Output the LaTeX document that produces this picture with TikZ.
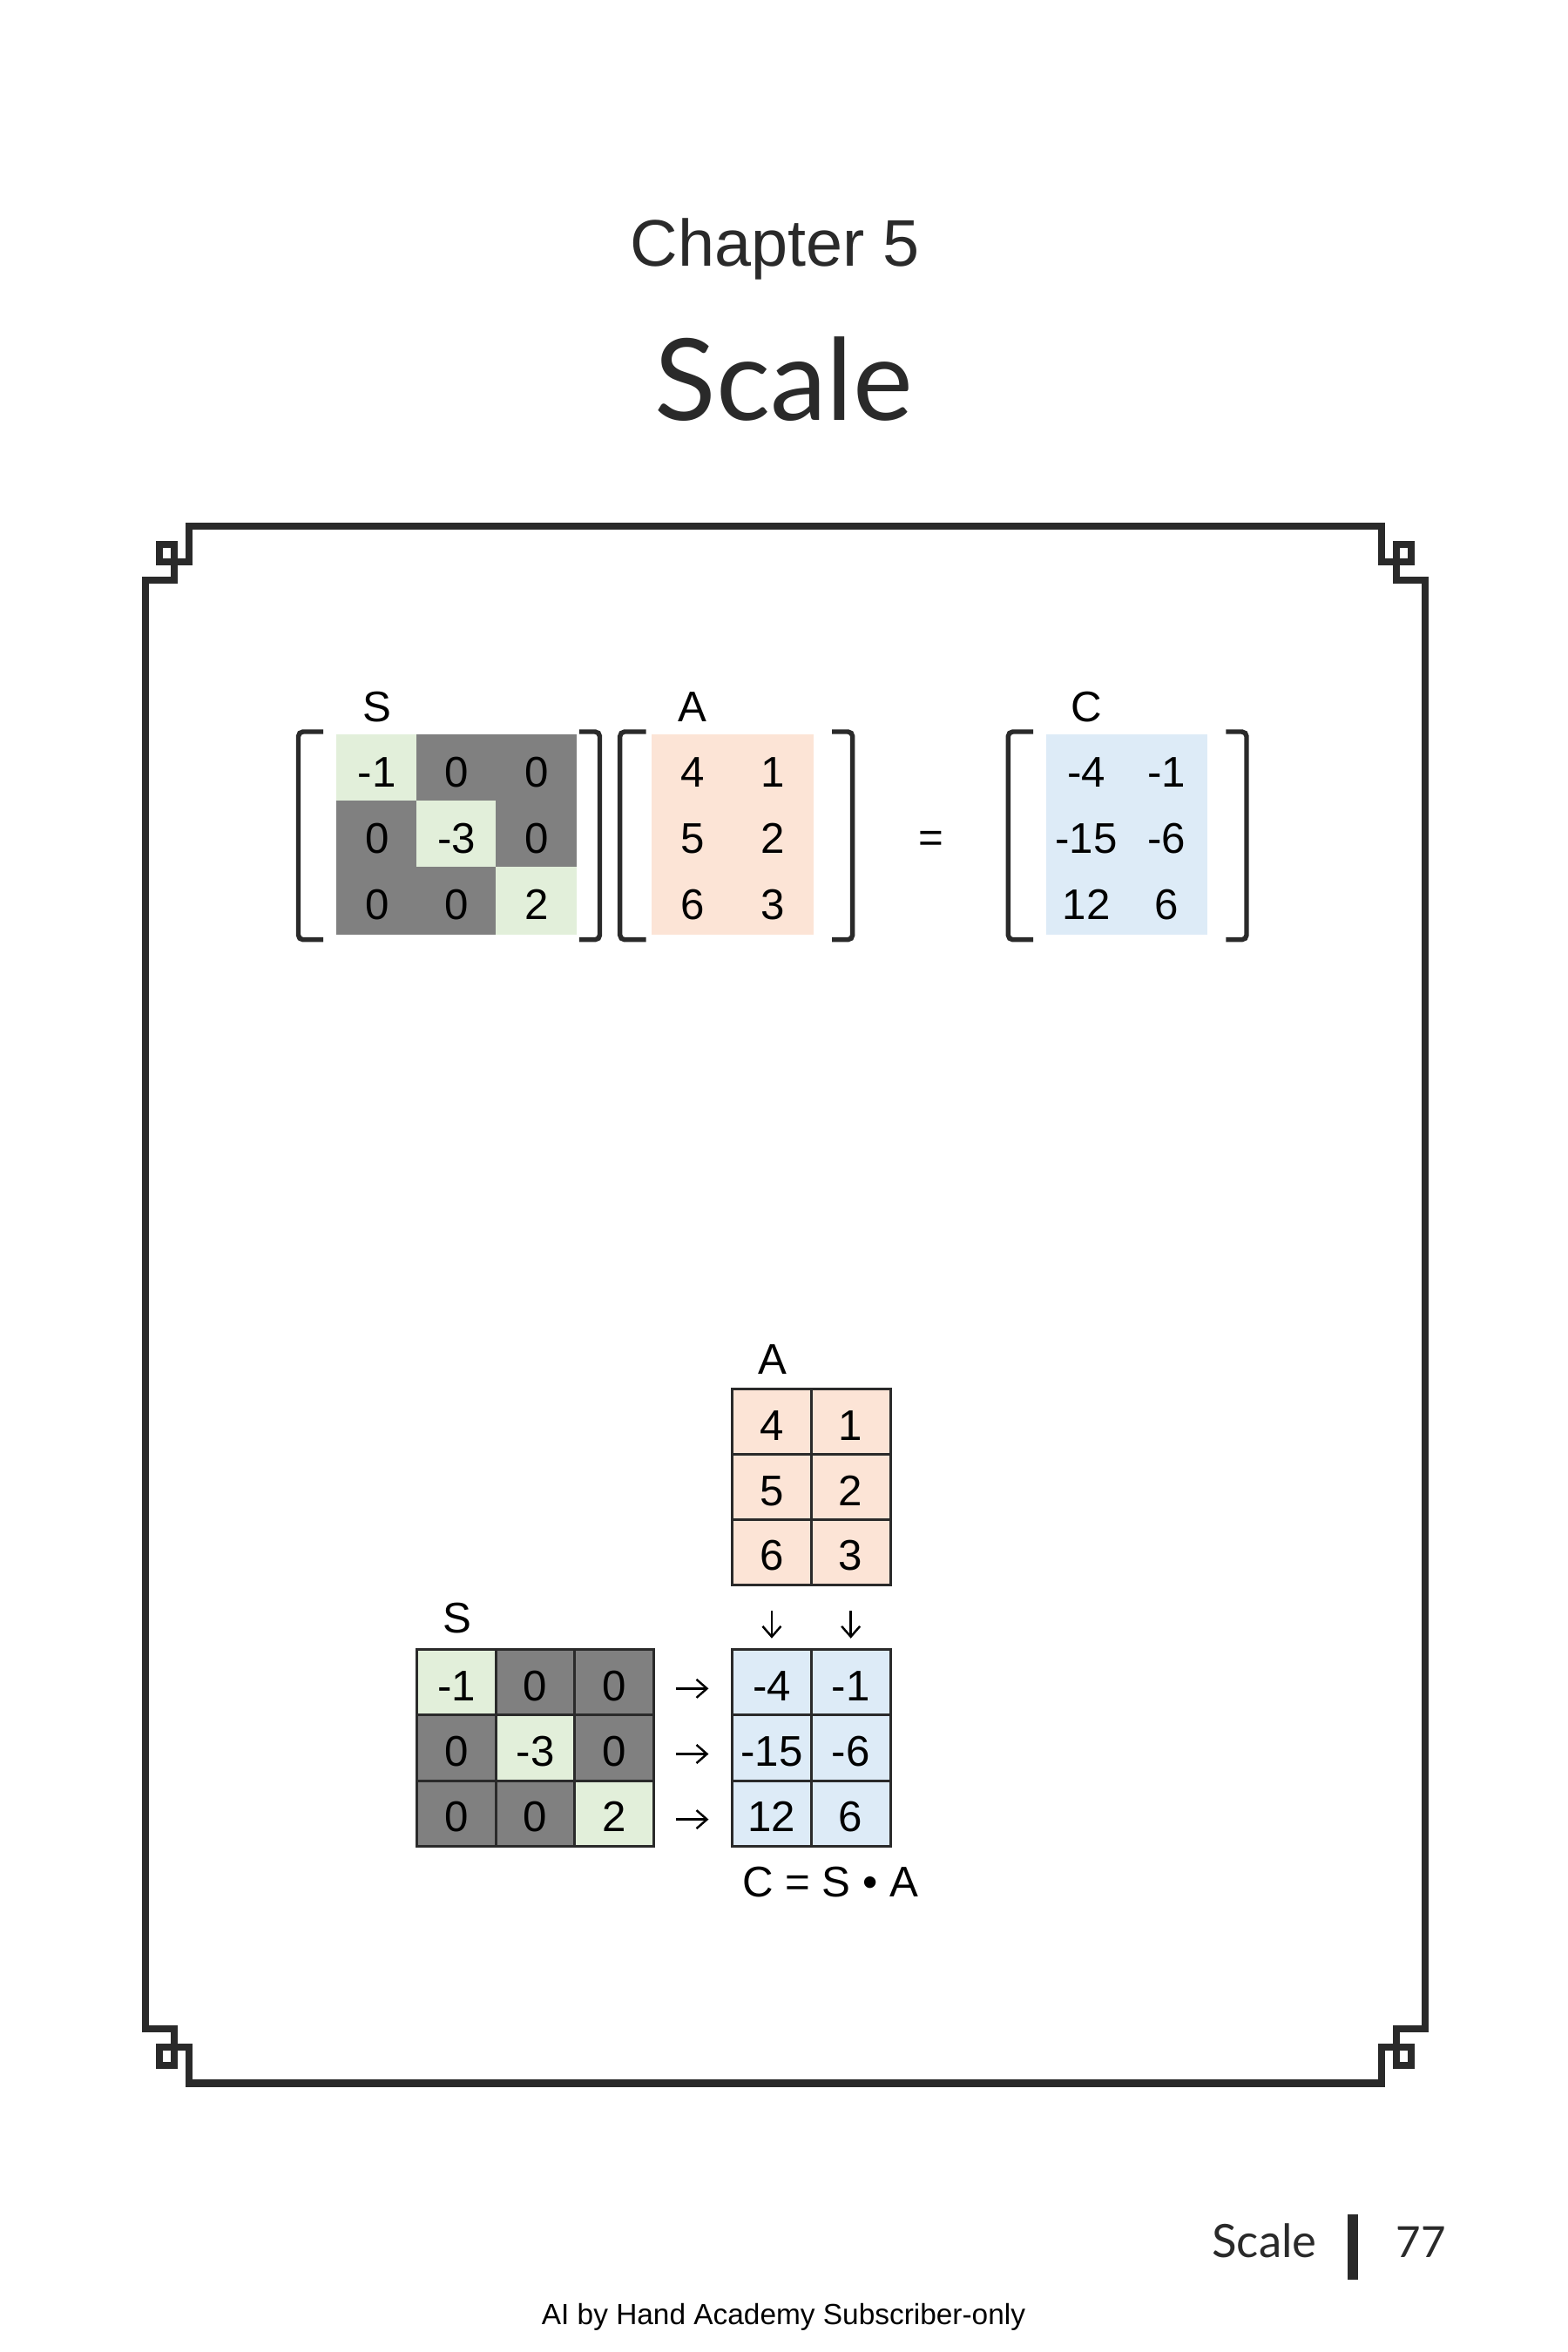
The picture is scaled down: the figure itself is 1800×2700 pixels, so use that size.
\documentclass[tikz,border=0pt]{standalone}
\usepackage{fontspec}
\setmainfont{Liberation Sans}
\newfontfamily\headfont{Lato}
\usetikzlibrary{arrows.meta, positioning}
\definecolor{frameDark}{HTML}{2A2A2A}
\definecolor{offGray}{HTML}{808080}
\definecolor{diagGreen}{HTML}{E2EFDA}
\definecolor{aPeach}{HTML}{FCE4D6}
\definecolor{cBlue}{HTML}{DDEBF7}
\newcommand\numfont{\fontsize{14pt}{16pt}\selectfont}
\tikzset{
  frame/.style={draw=frameDark, line width=2.35pt},
  mcell/.style={rectangle, inner sep=0pt, font=\numfont, text=black, line width=0.3pt,
                text height=12pt, text depth=0pt},
  topS/.style={mcell, minimum width=0.915cm, minimum height=0.76cm},
  topAC/.style={mcell, minimum width=0.92cm, minimum height=0.76cm},
  gridcell/.style={mcell, draw=frameDark, line width=0.85pt,
                   minimum width=0.907cm, minimum height=0.75cm},
  brk/.style={draw=frameDark, line width=1.55pt, rounded corners=1.5pt},
  flow/.style={-{Straight Barb[length=1.2mm, width=2.1mm]}, line width=0.7pt, draw=black},
  lbl/.style={font=\numfont, anchor=base, inner sep=0pt, text=black},
}
\begin{document}
\begin{tikzpicture}[x=0.01cm, y=-0.01cm]
  \fill[white] (0,0) rectangle (1800,2700);
  \useasboundingbox (0,0) rectangle (1800,2700);

  % headings
  \node[font=\fontsize{21.5pt}{26pt}\selectfont, anchor=base, text=frameDark] (chap) at (890,305) {Chapter 5};
  \node[font=\headfont\fontsize{37pt}{44pt}\selectfont, anchor=base, text=frameDark] (title) at (900,482) {Scale};

  % frame with the four corner knots
  \foreach \sx/\sy in {1/1, -1/1, 1/-1, -1/-1}
    \draw[frame, shift={(901.5,1497.75)}, xscale=\sx, yscale=\sy]
      (0,-893.75) -- (-684.8,-893.75) -- (-684.8,-852.45) -- (-718.2,-852.45)
      -- (-718.2,-872.95) -- (-701.5,-872.95) -- (-701.5,-831.55) -- (-734.8,-831.55)
      -- (-734.8,0);

  % S A = C with brackets
  \foreach \i/\j/\v/\c in {1/1/-1/diagGreen, 1/2/0/offGray, 1/3/0/offGray,
                           2/1/0/offGray, 2/2/-3/diagGreen, 2/3/0/offGray,
                           3/1/0/offGray, 3/2/0/offGray, 3/3/2/diagGreen}
    \node[topS, fill=\c, draw=\c] (tS-\i-\j) at ({387+91.5*(\j-0.5)}, {844+76*(\i-0.5)}) {\v};
  \foreach \i/\j/\v in {1/1/4, 1/2/1, 2/1/5, 2/2/2, 3/1/6, 3/2/3}
    \node[topAC, fill=aPeach, draw=aPeach] (tA-\i-\j) at ({749+92*(\j-0.5)}, {844+76*(\i-0.5)}) {\v};
  \foreach \i/\j/\v in {1/1/-4, 1/2/-1, 2/1/-15, 2/2/-6, 3/1/12, 3/2/6}
    \node[topAC, fill=cBlue, draw=cBlue] (tC-\i-\j) at ({1201+92.3*(\j-0.5)}, {844+76*(\i-0.5)}) {\v};

  \node[lbl] (tlabS) at (433,828) {S};
  \node[lbl] (tlabA) at (795,828) {A};
  \node[lbl] (tlabC) at (1247,828) {C};
  \node[lbl] (eq) at (1068.7,978) {=};

  \draw[brk] (371,840) -- (342.5,840) -- (342.5,1078.7) -- (371,1078.7);
  \draw[brk] (664.8,840) -- (688.5,840) -- (688.5,1078.7) -- (664.8,1078.7);
  \draw[brk] (741.6,840) -- (711.7,840) -- (711.7,1078.7) -- (741.6,1078.7);
  \draw[brk] (955,840) -- (978.7,840) -- (978.7,1078.7) -- (955,1078.7);
  \draw[brk] (1186,840) -- (1157.3,840) -- (1157.3,1078.7) -- (1186,1078.7);
  \draw[brk] (1407.3,840) -- (1431,840) -- (1431,1078.7) -- (1407.3,1078.7);

  % grid layout
  \foreach \i/\j/\v/\c in {1/1/-1/diagGreen, 1/2/0/offGray, 1/3/0/offGray,
                           2/1/0/offGray, 2/2/-3/diagGreen, 2/3/0/offGray,
                           3/1/0/offGray, 3/2/0/offGray, 3/3/2/diagGreen}
    \node[gridcell, fill=\c] (bS-\i-\j) at ({478.6+90.7*(\j-0.5)}, {1893.8+75.1*(\i-0.5)}) {\v};
  \foreach \i/\j/\v in {1/1/4, 1/2/1, 2/1/5, 2/2/2, 3/1/6, 3/2/3}
    \node[gridcell, fill=aPeach] (bA-\i-\j) at ({840.6+90.7*(\j-0.5)}, {1594.6+74.9*(\i-0.5)}) {\v};
  \foreach \i/\j/\v in {1/1/-4, 1/2/-1, 2/1/-15, 2/2/-6, 3/1/12, 3/2/6}
    \node[gridcell, fill=cBlue] (bC-\i-\j) at ({840.6+90.7*(\j-0.5)}, {1893.8+75.1*(\i-0.5)}) {\v};

  \node[lbl] (blabA) at (886.5,1577.7) {A};
  \node[lbl] (blabS) at (525,1874.7) {S};
  \node[lbl] (formula) at (953,2177) {C = S • A};

  \foreach \j in {1,2}
    \draw[flow, shorten <=8pt, shorten >=3.3pt] (bA-3-\j.south) -- (bC-1-\j.north);
  \foreach \i in {1,2,3}
    \draw[flow, shorten <=6.7pt, shorten >=7.3pt] ([yshift=-2pt]bS-\i-3.east) -- ([yshift=-2pt]bC-\i-1.west);

  % page foot
  \node[font=\headfont\fontsize{15pt}{18pt}\selectfont, anchor=base east, text=frameDark] (foot) at (1524,2591) {Scale};
  \fill[frameDark] (1547,2542) rectangle (1559,2617);
  \node[font=\headfont\fontsize{14pt}{18pt}\selectfont, anchor=base west, text=frameDark] (page) at (1590,2591) {77};
  \node[font=\fontsize{9.5pt}{11pt}\selectfont, anchor=base] (note) at (899.5,2668) {AI by Hand Academy Subscriber-only};
\end{tikzpicture}
\end{document}
